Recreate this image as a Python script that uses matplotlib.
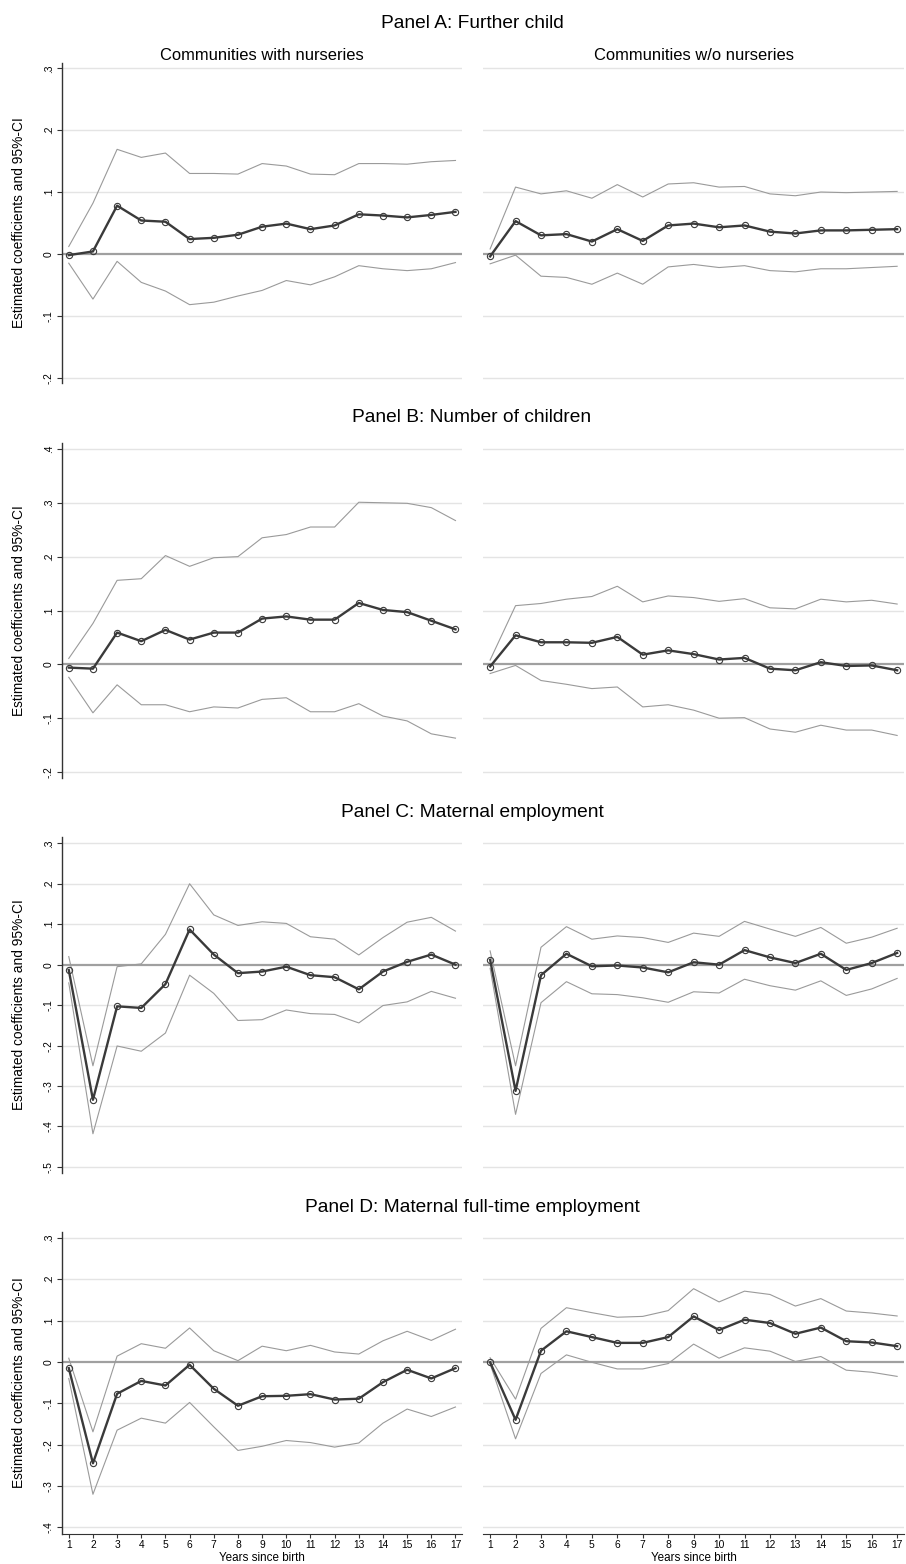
import matplotlib.pyplot as plt

plt.rcParams['font.family'] = ['Liberation Sans', 'DejaVu Sans']

years = list(range(1, 18))
x_ticks = years

# Panel A: Further child
a_with_est = [-0.002, 0.004, 0.078, 0.054, 0.052, 0.024, 0.026, 0.031, 0.044, 0.049, 0.040, 0.046, 0.064, 0.062, 0.059, 0.063, 0.068]
a_with_hi = [0.012, 0.082, 0.169, 0.156, 0.163, 0.130, 0.130, 0.129, 0.146, 0.142, 0.129, 0.128, 0.146, 0.146, 0.145, 0.149, 0.151]
a_with_lo = [-0.015, -0.073, -0.012, -0.046, -0.060, -0.082, -0.078, -0.068, -0.059, -0.043, -0.050, -0.037, -0.019, -0.024, -0.027, -0.024, -0.014]
a_wo_est = [-0.004, 0.053, 0.030, 0.032, 0.020, 0.040, 0.021, 0.046, 0.049, 0.043, 0.046, 0.036, 0.033, 0.038, 0.038, 0.039, 0.040]
a_wo_hi = [0.008, 0.108, 0.097, 0.102, 0.090, 0.112, 0.092, 0.113, 0.115, 0.108, 0.109, 0.097, 0.094, 0.100, 0.099, 0.100, 0.101]
a_wo_lo = [-0.016, -0.002, -0.036, -0.038, -0.049, -0.031, -0.049, -0.021, -0.017, -0.022, -0.019, -0.027, -0.029, -0.024, -0.024, -0.022, -0.020]

# Panel B: Number of children
b_with_est = [-0.006, -0.008, 0.059, 0.043, 0.064, 0.046, 0.059, 0.059, 0.085, 0.089, 0.083, 0.083, 0.114, 0.101, 0.097, 0.081, 0.065]
b_with_hi = [0.011, 0.076, 0.156, 0.159, 0.202, 0.182, 0.198, 0.200, 0.235, 0.241, 0.255, 0.255, 0.301, 0.300, 0.299, 0.291, 0.267]
b_with_lo = [-0.024, -0.090, -0.038, -0.075, -0.075, -0.088, -0.079, -0.081, -0.065, -0.062, -0.088, -0.088, -0.073, -0.096, -0.105, -0.129, -0.137]
b_wo_est = [-0.004, 0.054, 0.041, 0.041, 0.040, 0.051, 0.018, 0.026, 0.019, 0.009, 0.012, -0.008, -0.011, 0.004, -0.003, -0.002, -0.011]
b_wo_hi = [0.008, 0.109, 0.113, 0.121, 0.126, 0.145, 0.116, 0.127, 0.124, 0.117, 0.122, 0.105, 0.103, 0.121, 0.116, 0.119, 0.112]
b_wo_lo = [-0.017, -0.002, -0.030, -0.037, -0.045, -0.042, -0.079, -0.075, -0.085, -0.100, -0.099, -0.120, -0.126, -0.113, -0.122, -0.122, -0.132]

# Panel C: Maternal employment
c_with_est = [-0.013, -0.334, -0.103, -0.107, -0.048, 0.087, 0.025, -0.021, -0.017, -0.005, -0.026, -0.031, -0.061, -0.017, 0.007, 0.025, 0.000]
c_with_hi = [0.020, -0.250, -0.005, 0.002, 0.075, 0.200, 0.123, 0.097, 0.106, 0.102, 0.069, 0.063, 0.024, 0.067, 0.105, 0.117, 0.083]
c_with_lo = [-0.045, -0.418, -0.201, -0.214, -0.169, -0.026, -0.071, -0.138, -0.136, -0.112, -0.121, -0.123, -0.144, -0.101, -0.092, -0.066, -0.083]
c_wo_est = [0.012, -0.312, -0.026, 0.027, -0.004, -0.002, -0.007, -0.019, 0.006, 0.000, 0.036, 0.018, 0.004, 0.027, -0.013, 0.004, 0.029]
c_wo_hi = [0.034, -0.250, 0.043, 0.094, 0.063, 0.071, 0.067, 0.055, 0.078, 0.070, 0.107, 0.088, 0.070, 0.092, 0.053, 0.068, 0.090]
c_wo_lo = [-0.009, -0.370, -0.094, -0.042, -0.072, -0.074, -0.082, -0.093, -0.067, -0.070, -0.036, -0.052, -0.063, -0.040, -0.076, -0.060, -0.034]

# Panel D: Maternal full-time employment
d_with_est = [-0.015, -0.245, -0.077, -0.046, -0.057, -0.007, -0.065, -0.106, -0.083, -0.082, -0.078, -0.091, -0.089, -0.049, -0.019, -0.040, -0.015]
d_with_hi = [0.009, -0.169, 0.014, 0.044, 0.033, 0.082, 0.027, 0.003, 0.038, 0.027, 0.040, 0.024, 0.019, 0.051, 0.074, 0.052, 0.079]
d_with_lo = [-0.040, -0.320, -0.165, -0.136, -0.148, -0.098, -0.157, -0.214, -0.204, -0.190, -0.195, -0.206, -0.196, -0.148, -0.114, -0.132, -0.109]
d_wo_est = [-0.001, -0.140, 0.027, 0.074, 0.060, 0.046, 0.046, 0.060, 0.110, 0.077, 0.102, 0.094, 0.068, 0.083, 0.050, 0.047, 0.038]
d_wo_hi = [0.010, -0.090, 0.081, 0.131, 0.119, 0.108, 0.110, 0.124, 0.177, 0.145, 0.171, 0.163, 0.135, 0.153, 0.123, 0.118, 0.111]
d_wo_lo = [-0.005, -0.186, -0.028, 0.017, -0.001, -0.017, -0.017, -0.004, 0.043, 0.009, 0.034, 0.026, 0.001, 0.013, -0.020, -0.025, -0.035]

panel_titles = ['Panel A: Further child', 'Panel B: Number of children',
                'Panel C: Maternal employment', 'Panel D: Maternal full-time employment']
col_titles = ['Communities with nurseries', 'Communities w/o nurseries']
y_ticks = [
    [-0.2, -0.1, 0.0, 0.1, 0.2, 0.3],
    [-0.2, -0.1, 0.0, 0.1, 0.2, 0.3, 0.4],
    [-0.5, -0.4, -0.3, -0.2, -0.1, 0.0, 0.1, 0.2, 0.3],
    [-0.4, -0.3, -0.2, -0.1, 0.0, 0.1, 0.2, 0.3],
]
series = [
    [(a_with_est, a_with_lo, a_with_hi), (a_wo_est, a_wo_lo, a_wo_hi)],
    [(b_with_est, b_with_lo, b_with_hi), (b_wo_est, b_wo_lo, b_wo_hi)],
    [(c_with_est, c_with_lo, c_with_hi), (c_wo_est, c_wo_lo, c_wo_hi)],
    [(d_with_est, d_with_lo, d_with_hi), (d_wo_est, d_wo_lo, d_wo_hi)],
]

# layout in pixels: (title_y, axes_top, axes_bottom, ylim)
W, H = 906, 1564
rows = [
    (23, 62.7, 383, (-0.2086, 0.309)),
    (418, 443, 778, (-0.211, 0.411)),
    (812, 837, 1173, (-0.515, 0.3156)),
    (1207, 1232, 1534, (-0.416, 0.314)),
]
cols = [(62, 462), (483, 904)]

GRID = '#e4e4e4'
CI = '#9a9a9a'
EST = '#3a3a3a'


def fmt(v):
    if abs(v) < 1e-9:
        return '0'
    return ('%.1f' % v).replace('0.', '.')


fig = plt.figure(figsize=(W / 100, H / 100), dpi=100)

for r, (title_y, top, bottom, ylim) in enumerate(rows):
    fig.text(472 / W, 1 - title_y / H, panel_titles[r], ha='center', va='center', fontsize=13.8)
    last = r == len(rows) - 1
    for c, (left, right) in enumerate(cols):
        ax = fig.add_axes([left / W, 1 - bottom / H, (right - left) / W, (bottom - top) / H])
        est, lo, hi = series[r][c]

        for t in y_ticks[r]:
            if abs(t) > 1e-9:
                ax.axhline(t, color=GRID, lw=1.0, zorder=0)
        ax.axhline(0, color='#a0a0a0', lw=1.6, zorder=1)

        ax.plot(years, hi, color=CI, lw=0.8, zorder=2)
        ax.plot(years, lo, color=CI, lw=0.8, zorder=2)
        ax.plot(years, est, color=EST, lw=1.7, marker='o', ms=4.5, mfc='none',
                mec=EST, mew=0.8, zorder=3)

        ax.set_xlim(0.72, 17.27)
        ax.set_ylim(*ylim)
        ax.set_yticks(y_ticks[r])

        for s in ['top', 'right']:
            ax.spines[s].set_visible(False)
        ax.spines['bottom'].set_visible(last)
        ax.spines['bottom'].set_color('#333333')
        ax.spines['left'].set_color('#333333')
        ax.spines['left'].set_linewidth(1.0)

        if c == 0:
            ax.set_yticklabels([fmt(t) for t in y_ticks[r]], rotation=90, va='center', fontsize=7.4)
            ax.tick_params(axis='y', direction='out', length=3.5, width=0.8, pad=2.5, color='#333333')
            ax.set_ylabel('Estimated coefficients and 95%-CI', fontsize=9.9, labelpad=13)
        else:
            ax.spines['left'].set_visible(False)
            ax.tick_params(axis='y', left=False, labelleft=False)

        if last:
            ax.set_xticks(x_ticks)
            ax.set_xticklabels([str(v) for v in x_ticks], fontsize=7.4)
            ax.tick_params(axis='x', direction='out', length=3, width=0.8, pad=1.5, color='#333333')
            ax.set_xlabel('Years since birth', fontsize=8.4, labelpad=1)
        else:
            ax.tick_params(axis='x', bottom=False, labelbottom=False)

        if r == 0:
            ax.set_title(col_titles[c], fontsize=11.9, pad=2)

fig.savefig('out.png', dpi=100)
